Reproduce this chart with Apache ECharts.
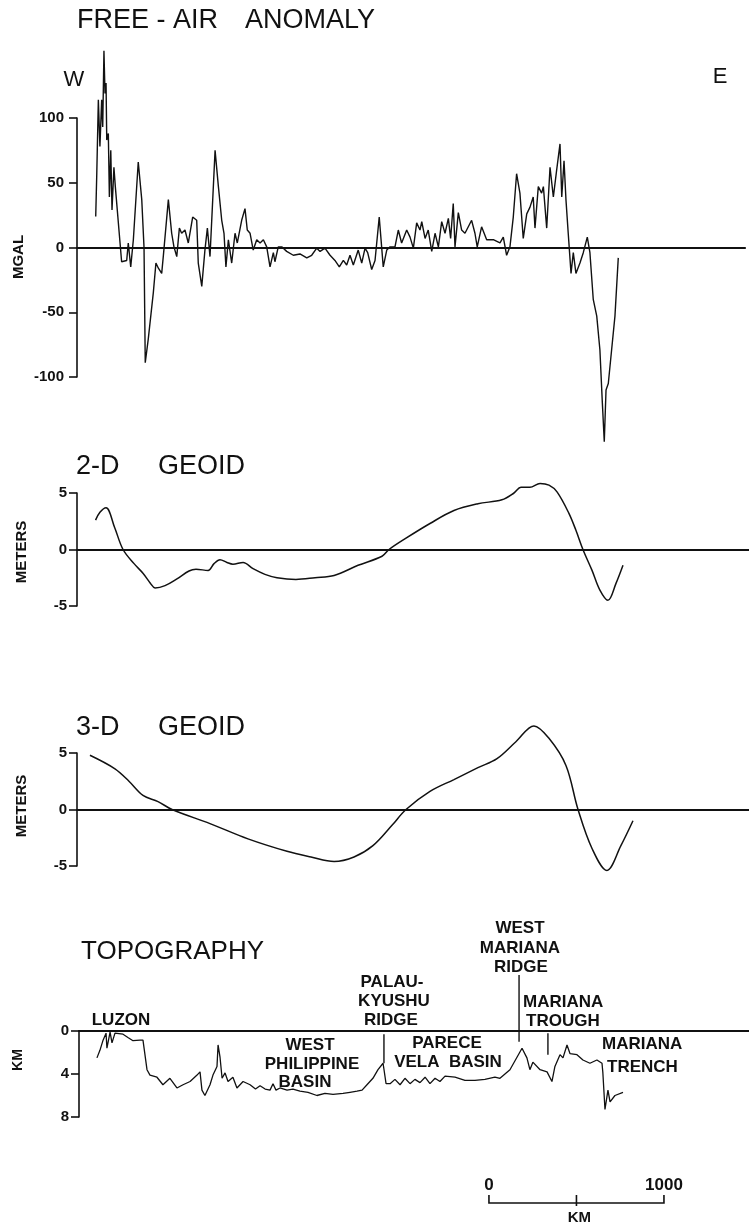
<!DOCTYPE html>
<html><head><meta charset="utf-8">
<script src="https://cdn.jsdelivr.net/npm/echarts@6/dist/echarts.min.js"></script>
<style>html,body{margin:0;padding:0;background:#fff;}#c{width:749px;height:1228px;}</style>
</head><body><div id="c"></div>
<script>
// ---------- DATA (distance along profile in km, W -> E) ----------
const faKm = [107,113,122,131,141,147,154,160,166,170,179,185,193,200,211,219,246,255,284,293,307,322,350,370,383,390,407,436,451,465,484,493,522,541,554,570,585,598,617,636,661,684,693,713,731,745,760,789,808,827,840,851,865,884,903,916,941,960,973,989,1007,1027,1046,1065,1084,1103,1122,1131,1150,1170,1198,1236,1274,1313,1341,1370,1389,1417,1446,1474,1499,1522,1541,1560,1579,1607,1627,1646,1661,1684,1703,1727,1750,1770,1789,1817,1836,1855,1884,1903,1922,1941,1960,1970,1989,2007,2027,2046,2065,2084,2103,2122,2135,2150,2160,2179,2198,2217,2236,2255,2274,2287,2312,2341,2379,2417,2436,2455,2474,2493,2512,2531,2550,2570,2588,2607,2617,2636,2655,2665,2684,2703,2722,2741,2760,2770,2783,2794,2807,2823,2836,2851,2874,2893,2916,2931,2950,2970,2988,3002,3013,3023,3036,3055,3074,3093];
const faMgal = [24,57,114,78,114,93,152,119,127,83,88,39,75,29,62,47,3.5,-11,-10,3.5,-15,6,66,37,0,-89,-71,-35,-12,-16,-20,-7,37,11,0.5,-7,15,11,13.5,3.5,23.5,21,-12,-30,-2,15,-7,75,47,21,11,-15,6,-12,11,3.5,21,30,13.5,11,-2,6,3.5,6,0.5,-15,-4,-11,0.5,0.5,-3,-6,-5,-8,-6,-0.5,-3,-0.5,-6,-10,-15,-10,-13.5,-6,-13.5,-2,-12,-0.5,-4,-17,-10,23.5,-15,-2,0.5,0.5,13.5,3.5,13.5,8,-0.5,19,13.5,20,7,13.5,-3,11,0.5,20,11,22.5,7,34,0.5,27,13.5,11,16,21,11,0.5,16,6,6,3.5,8,-6,0.5,23.5,57,42,7,26,31,39,15,47,42,47,15,62,39,60,80,39,67,37,11,-20,-4,-20,-12,-4,8,-4,-40,-53,-79,-120,-150,-110,-105,-79,-53,-8];

const geo2Km = [106,131,166,215,263,326,377,420,446,503,571,640,680,749,783,817,857,891,949,1006,1074,1143,1251,1360,1469,1606,1743,1783,1880,2017,2154,2291,2428,2497,2537,2588,2646,2697,2743,2811,2851,2891,2943,2988,3034,3080,3120];
const geo2M = [2.6,3.3,3.7,1.95,0,-1.25,-2.1,-3.0,-3.4,-3.2,-2.6,-1.9,-1.75,-1.85,-1.25,-0.9,-1.15,-1.3,-1.15,-1.7,-2.2,-2.5,-2.65,-2.5,-2.3,-1.4,-0.6,0,1.0,2.3,3.45,4.05,4.4,5.0,5.5,5.5,5.85,5.7,5.1,3.2,1.7,0,-1.85,-3.6,-4.5,-3.0,-1.4];

const geo3Km = [74,217,297,377,463,543,760,977,1200,1337,1469,1583,1691,1800,1880,2017,2154,2291,2400,2508,2611,2697,2794,2863,2943,3028,3108,3177];
const geo3M = [4.8,3.6,2.5,1.25,0.7,0,-1.25,-2.6,-3.7,-4.2,-4.6,-4.2,-3.2,-1.4,0,1.6,2.65,3.7,4.5,6.0,7.4,6.3,3.9,0,-3.45,-5.4,-3.2,-1.0];

const topoKm = [114,131,149,166,171,189,200,217,263,291,320,360,377,400,417,457,491,531,571,606,646,686,703,714,731,760,777,800,806,817,829,846,863,891,914,949,989,1020,1046,1075,1103,1120,1137,1160,1200,1234,1274,1320,1371,1417,1463,1520,1560,1600,1629,1657,1691,1720,1749,1766,1789,1817,1846,1874,1903,1931,1960,1989,2017,2046,2074,2103,2160,2217,2274,2331,2388,2417,2474,2543,2571,2588,2605,2646,2686,2714,2731,2760,2777,2800,2817,2857,2891,2931,2971,3000,3005,3017,3034,3046,3074,3120];
const topoDepthKm = [2.5,1.8,0.85,0.2,1.6,0.1,1.1,0.2,0.3,0.6,0.9,0.85,0.85,3.6,4.1,4.3,5.0,4.4,5.3,5.0,4.7,4.1,3.8,5.5,6.0,5.0,4.1,3.3,1.3,2.4,4.4,3.9,4.7,4.3,5.3,4.7,5.0,5.4,5.1,5.4,5.5,4.9,5.5,5.3,5.5,5.4,5.6,5.7,6.0,5.8,5.9,5.8,5.7,5.6,5.5,5.0,4.4,3.6,3.0,4.9,4.9,4.5,5.0,4.4,4.9,4.5,4.8,4.3,4.9,4.4,4.7,4.2,4.3,4.6,4.6,4.5,4.3,4.4,3.6,1.6,2.5,3.6,2.9,3.6,3.8,4.7,3.3,2.2,2.5,1.3,2.1,2.2,2.7,3.0,2.7,3.0,3.9,7.3,5.5,6.6,6.0,5.7];

// feature marker lines on topography: position (km), top and bottom (depth km)
const markerKm = [1754, 2526, 2691];
const markerTop = [0.3, -5.2, 0.2];
const markerBottom = [3.0, 1.0, 2.2];

const scaleBarStartKm = 2354;
const scaleBarLengthKm = 1000;

// ---------- LAYOUT ----------
const FONT = "'Liberation Sans', Arial, sans-serif";
const INK = '#111';
const KM_PER_PX = 1000 / 175;
const ORIGIN_PX = 77;
const W = 749;
const grids = [
  {left: 77, right: 4, top: 118, height: 259},
  {left: 77, right: 0, top: 493, height: 113},
  {left: 77, right: 0, top: 753, height: 113},
  {left: 79, right: 0, top: 1031, height: 86}
];
const zip = (a, b) => a.map((v, i) => [v, b[i]]);

function xAx(i) {
  const g = grids[i];
  return {
    gridIndex: i, type: 'value',
    min: (g.left - ORIGIN_PX) * KM_PER_PX,
    max: (W - g.right - ORIGIN_PX) * KM_PER_PX,
    axisLine: {show: true, onZero: true, lineStyle: {color: INK, width: 2.2}},
    axisTick: {show: false}, axisLabel: {show: false}, splitLine: {show: false}
  };
}
function yAx(i, min, max, interval, inverse, margin) {
  return {
    gridIndex: i, type: 'value', min, max, interval, inverse: !!inverse,
    axisLine: {show: true, onZero: false, lineStyle: {color: INK, width: 1.6}},
    axisTick: {show: true, length: 8, lineStyle: {color: INK, width: 1.6}},
    axisLabel: {color: INK, fontFamily: FONT, fontWeight: 'bold', fontSize: 15, margin: margin},
    splitLine: {show: false}
  };
}
function lineSeries(i, data, width, smooth) {
  return {
    type: 'line', xAxisIndex: i, yAxisIndex: i, data,
    symbol: 'none', showSymbol: false, smooth: smooth || false,
    clip: false, animation: false, silent: true,
    lineStyle: {color: INK, width}
  };
}
function txt(id, text, x, y, size, opts) {
  opts = opts || {};
  const align = opts.align || 'left';
  return {
    id, type: 'text', x, y, rotation: opts.rotation || 0, silent: true,
    style: {
      text, x: 0, y: 0, fill: INK,
      font: (opts.weight || 'normal') + ' ' + size + 'px ' + FONT,
      textAlign: align, align: align,
      textVerticalAlign: 'middle', verticalAlign: 'middle'
    }
  };
}

const markers = {
  type: 'custom', xAxisIndex: 3, yAxisIndex: 3, clip: false, silent: true, animation: false,
  data: markerKm.map((k, i) => [k, markerTop[i], markerBottom[i]]),
  encode: {x: 0, y: [1, 2]},
  renderItem: function (params, api) {
    const a = api.coord([api.value(0), api.value(1)]);
    const b = api.coord([api.value(0), api.value(2)]);
    return {type: 'line', shape: {x1: a[0], y1: a[1], x2: b[0], y2: b[1]},
            style: {stroke: INK, lineWidth: 1.4}};
  }
};

const R = Math.PI / 2;
const B = {weight: 'bold'};
const BC = {weight: 'bold', align: 'center'};
const graphics = [
  txt('t1a', 'FREE - AIR', 77, 21, 27),
  txt('t1b', 'ANOMALY', 245, 21, 27),
  txt('tw', 'W', 74, 80, 22, {align: 'center'}),
  txt('te', 'E', 720, 77, 22, {align: 'center'}),
  txt('t2a', '2-D', 76, 467, 27),
  txt('t2b', 'GEOID', 158, 467, 27),
  txt('t3a', '3-D', 76, 728, 27),
  txt('t3b', 'GEOID', 158, 728, 27),
  txt('t4', 'TOPOGRAPHY', 81, 952, 26),
  txt('n1', 'MGAL', 19, 257, 15, {weight: 'bold', align: 'center', rotation: R}),
  txt('n2', 'METERS', 22, 552, 15, {weight: 'bold', align: 'center', rotation: R}),
  txt('n3', 'METERS', 22, 806, 15, {weight: 'bold', align: 'center', rotation: R}),
  txt('n4', 'KM', 18, 1060, 14, {weight: 'bold', align: 'center', rotation: R}),
  txt('l1', 'LUZON', 121, 1020, 17, BC),
  txt('l2', 'PALAU-', 392, 982, 17, BC),
  txt('l3', 'KYUSHU', 394, 1001, 17, BC),
  txt('l4', 'RIDGE', 391, 1020, 17, BC),
  txt('l5', 'WEST', 520, 928, 17, BC),
  txt('l6', 'MARIANA', 520, 948, 17, BC),
  txt('l7', 'RIDGE', 521, 967, 17, BC),
  txt('l8', 'MARIANA', 523, 1002, 17, B),
  txt('l9', 'TROUGH', 526, 1021, 17, B),
  txt('l10', 'WEST', 310, 1045, 17, BC),
  txt('l11', 'PHILIPPINE', 312, 1064, 17, BC),
  txt('l12', 'BASIN', 305, 1082, 17, BC),
  txt('l13', 'PARECE', 447, 1043, 17, BC),
  txt('l14', 'VELA  BASIN', 448, 1062, 17, BC),
  txt('l15', 'MARIANA', 602, 1044, 17, B),
  txt('l16', 'TRENCH', 607, 1067, 17, B)
];

const chart = echarts.init(document.getElementById('c'), null, {renderer: 'canvas'});
chart.setOption({
  animation: false,
  backgroundColor: '#fff',
  grid: grids.map(g => Object.assign({containLabel: false}, g)),
  xAxis: [0, 1, 2, 3].map(xAx),
  yAxis: [
    yAx(0, -100, 100, 50, false, 13),
    yAx(1, -5, 5, 5, false, 10),
    yAx(2, -5, 5, 5, false, 10),
    yAx(3, 0, 8, 4, true, 10)
  ],
  series: [
    lineSeries(0, zip(faKm, faMgal), 1.4, false),
    lineSeries(1, zip(geo2Km, geo2M), 1.5, 0.35),
    lineSeries(2, zip(geo3Km, geo3M), 1.5, 0.35),
    lineSeries(3, zip(topoKm, topoDepthKm), 1.3, false),
    markers
  ],
  graphic: graphics
});

// scale bar placed through the x scale of the topography axis
const p0 = chart.convertToPixel({xAxisIndex: 3}, scaleBarStartKm);
const p1 = chart.convertToPixel({xAxisIndex: 3}, scaleBarStartKm + scaleBarLengthKm);
const pm = chart.convertToPixel({xAxisIndex: 3}, scaleBarStartKm + scaleBarLengthKm / 2);
chart.setOption({
  graphic: [
    {id: 'sb', type: 'polyline', silent: true,
     shape: {points: [[p0, 1195], [p0, 1203], [p1, 1203], [p1, 1195]]},
     style: {stroke: INK, lineWidth: 1.6, fill: null}},
    {id: 'sbm', type: 'line', silent: true,
     shape: {x1: pm, y1: 1195, x2: pm, y2: 1206},
     style: {stroke: INK, lineWidth: 1.6}},
    txt('s0', '0', p0, 1185, 17, BC),
    txt('s1', '1000', p1, 1185, 17, BC),
    txt('s2', 'KM', pm + 3, 1218, 15, BC)
  ]
});
</script>
</body></html>
